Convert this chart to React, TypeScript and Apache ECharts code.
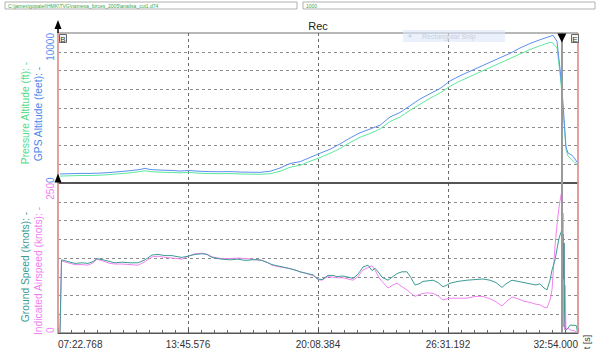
import React, { useEffect, useRef } from "react";
import * as echarts from "echarts";

// ---- time axis (seconds) ----
const T0 = 442.768; // 07:22.768
const TICK_STEP = 382.808;
const SPAN = TICK_STEP * 4; // up to 32:54.000
const CURSOR_T = 1926.5;

// ---- altitude panel ----
const altTimes = [
  448.7, 478.1, 507.6, 537.0, 566.5, 595.9, 625.4, 654.8, 684.3, 699.0,
  713.7, 743.2, 772.6, 802.1, 831.5, 861.0, 890.4, 919.8, 949.3, 978.7,
  1008.2, 1037.6, 1067.1, 1096.5, 1126.0, 1155.4, 1184.9, 1214.3, 1243.8, 1273.2,
  1302.7, 1332.1, 1361.5, 1391.0, 1420.4, 1449.9, 1479.3, 1508.8, 1538.2, 1567.7,
  1597.1, 1626.6, 1656.0, 1685.5, 1714.9, 1744.4, 1773.8, 1803.2, 1832.7, 1862.1,
  1891.6, 1900.4, 1912.2, 1921.1, 1927.0, 1932.9, 1938.7, 1944.6, 1956.4, 1965.2,
  1974.0,
];
const gpsAltitude = [
  600, 620, 640, 640, 660, 700, 760, 820, 900, 980,
  900, 860, 840, 800, 830, 780, 760, 750, 760, 730,
  720, 710, 780, 1000, 1300, 1420, 1700, 1980, 2250, 2600,
  3000, 3350, 3600, 3850, 4400, 4700, 5150, 5600, 5950, 6300,
  6800, 7150, 7450, 7750, 8050, 8350, 8640, 9000, 9300, 9550,
  9780, 9850, 9450, 7600, 6200, 4300, 2400, 2000, 1850, 1600,
  1300,
];
const pressureAltitude = [
  460, 480, 500, 500, 520, 560, 620, 680, 760, 820,
  760, 720, 700, 680, 700, 650, 630, 620, 630, 600,
  590, 580, 620, 780, 1050, 1180, 1450, 1700, 1980, 2300,
  2700, 3050, 3300, 3600, 4100, 4400, 4850, 5250, 5650, 6000,
  6450, 6800, 7100, 7400, 7700, 8000, 8300, 8600, 8900, 9150,
  9380, 9330, 9000, 7300, 5900, 4000, 2200, 1800, 1550, 1350,
  1200,
];

// ---- speed panel ----
const spdTimes = [
  448.7, 453.1, 454.6, 472.2, 492.9, 513.5, 531.1, 545.9, 557.6, 575.3,
  595.9, 610.6, 631.3, 654.8, 678.4, 699.0, 719.6, 737.3, 757.9, 778.5,
  796.2, 807.9, 825.6, 846.2, 866.8, 881.6, 896.3, 914.0, 925.7, 949.3,
  972.8, 993.5, 1014.1, 1031.7, 1043.5, 1061.2, 1072.9, 1096.5, 1120.1, 1140.7,
  1155.4, 1170.1, 1184.9, 1193.7, 1208.4, 1220.2, 1237.9, 1252.6, 1264.4, 1282.0,
  1296.8, 1311.5, 1326.2, 1341.0, 1355.7, 1367.5, 1376.3, 1388.1, 1396.9, 1414.6,
  1429.3, 1441.1, 1455.8, 1470.5, 1482.3, 1494.1, 1505.9, 1517.6, 1532.4, 1547.1,
  1561.8, 1576.5, 1588.3, 1597.1, 1620.7, 1647.2, 1670.8, 1694.3, 1714.9, 1732.6,
  1750.2, 1762.0, 1779.7, 1797.4, 1815.0, 1832.7, 1850.4, 1862.1, 1873.9, 1882.8,
  1891.6, 1897.5, 1906.3, 1912.2, 1918.1, 1924.0, 1927.0, 1928.4, 1929.9, 1931.4,
  1932.9, 1934.3, 1935.8, 1938.7, 1944.6, 1950.5, 1962.3, 1969.7, 1972.6,
];
const groundSpeed = [
  0, 122, 122, 119, 116, 117, 116, 119, 124, 122,
  119, 117, 118, 117, 117, 122, 130, 131, 129, 129,
  127, 126, 128, 131, 132, 131, 126, 124, 123, 122,
  123, 121, 122, 122, 121, 117, 114, 111, 108, 105,
  102, 100, 98, 97, 90, 89, 96, 96, 94, 95,
  93, 91, 98, 110, 113, 104, 108, 100, 93, 88,
  94, 99, 102, 102, 92, 80, 82, 86, 87, 88,
  84, 77, 80, 83, 86, 88, 89, 90, 88, 84,
  76, 82, 88, 86, 84, 82, 80, 82, 75, 72,
  88, 105, 122, 140, 158, 168, 172, 150, 165, 90,
  150, 40, 10, 5, 8, 13, 13, 12, 0,
];
const indicatedAirspeed = [
  0, 120, 120, 117, 114, 114, 113, 117, 123, 120,
  116, 115, 115, 114, 113, 119, 127, 128, 126, 125,
  124, 123, 128, 132, 133, 131, 127, 125, 124, 124,
  125, 124, 123, 122, 121, 117, 113, 110, 108, 105,
  102, 100, 97, 96, 89, 88, 94, 93, 92, 92,
  90, 88, 94, 105, 109, 112, 105, 92, 86, 75,
  80, 83, 77, 72, 66, 61, 64, 66, 67, 66,
  62, 55, 57, 58, 58, 58, 61, 61, 57, 52,
  45, 52, 60, 57, 53, 51, 48, 47, 43, 42,
  55, 72, 145, 180, 210, 230, 238, 20, 200, 10,
  150, 5, 80, 5, 8, 5, 4, 2, 0,
];

// ---- axis ranges / tick labels ----
const altMax = 10000;
const altStep = 1250;
const altLabels = [0, 10000];
const spdMax = 250;
const spdStep = 31.25;
const spdLabels = [0, 250];

const FONT = "'Liberation Sans', Arial, sans-serif";
const C_GPS = "#5b8ff0";
const C_PRESS = "#5ee89e";
const C_GS = "#3b9c94";
const C_IAS = "#f282f2";
const C_RED = "#f39a9a";

function fmtTime(v: number): string {
  const t = v + T0;
  const m = Math.floor(t / 60 + 1e-9);
  const s = t - m * 60;
  return String(m).padStart(2, "0") + ":" + Math.abs(s).toFixed(3).padStart(6, "0");
}

function pairs(times: number[], vals: number[]) {
  return times.map((t, i) => [t - T0, vals[i]]);
}

const boundaryLines = () => ({
  silent: true,
  symbol: ["none", "none"],
  label: { show: false },
  emphasis: { disabled: true },
  data: [
    { xAxis: 0, lineStyle: { color: C_RED, width: 1.5, type: "solid" } },
    { xAxis: SPAN, lineStyle: { color: C_RED, width: 1.5, type: "solid" } },
    { xAxis: CURSOR_T - T0, lineStyle: { color: "#9a9a9a", width: 2, type: "solid" } },
  ],
});

function rotText(text: string, x: number, y: number, fill: string, size: number) {
  return {
    type: "text",
    x,
    y,
    rotation: Math.PI / 2,
    z: 100,
    style: {
      text,
      fill,
      fontSize: size,
      fontFamily: FONT,
      align: "center",
      verticalAlign: "middle",
      textAlign: "center",
      textVerticalAlign: "middle",
    },
  };
}

const splitX = {
  show: true,
  showMinLine: false,
  showMaxLine: false,
  lineStyle: { color: "#6a6a6a", type: [3, 3], width: 1 },
};
const splitY = {
  show: true,
  showMinLine: false,
  showMaxLine: false,
  lineStyle: { color: "#8c8c8c", type: [3, 3], width: 1 },
};

const option: any = {
  animation: false,
  backgroundColor: "#ffffff",
  textStyle: { fontFamily: FONT },
  grid: [
    { left: 58, top: 33, width: 520, height: 150, show: true, borderColor: "#707070", borderWidth: 1, backgroundColor: "transparent" },
    { left: 58, top: 183, width: 520, height: 150, show: true, borderColor: "#555555", borderWidth: 1, backgroundColor: "transparent" },
  ],
  xAxis: [
    {
      gridIndex: 0, type: "value", min: 0, max: SPAN, interval: TICK_STEP,
      axisLine: { show: true, onZero: false, lineStyle: { color: "#444", width: 1.5 } },
      axisTick: { show: false }, axisLabel: { show: false },
      splitLine: splitX,
    },
    {
      gridIndex: 1, type: "value", min: 0, max: SPAN, interval: TICK_STEP,
      axisLine: { show: true, onZero: false, lineStyle: { color: "#555", width: 1 } },
      axisTick: { show: true, inside: true, length: 5, lineStyle: { color: "#555" } },
      minorTick: { show: true, splitNumber: 10, length: 3, lineStyle: { color: "#666" } },
      axisLabel: {
        formatter: (v: number) => fmtTime(v),
        color: "#333", fontSize: 10, margin: 6, fontFamily: FONT,
        showMinLabel: true, showMaxLabel: true,
        alignMinLabel: "left", alignMaxLabel: "right",
      },
      splitLine: splitX,
    },
  ],
  yAxis: [
    {
      gridIndex: 0, type: "value", min: 0, max: altMax, interval: altStep,
      axisLine: { show: false }, axisTick: { show: false },
      axisLabel: {
        rotate: 90, margin: 3, fontSize: 10, color: C_GPS, fontFamily: FONT,
        formatter: (v: number) => (altLabels.includes(v) ? String(v) : ""),
        showMinLabel: true, showMaxLabel: true,
        alignMinLabel: "left", alignMaxLabel: "right",
      },
      splitLine: splitY,
    },
    {
      gridIndex: 1, type: "value", min: 0, max: spdMax, interval: spdStep,
      axisLine: { show: false }, axisTick: { show: false },
      axisLabel: {
        rotate: 90, margin: 3, fontSize: 10, color: C_IAS, fontFamily: FONT,
        formatter: (v: number) => (spdLabels.includes(v) ? String(v) : ""),
        showMinLabel: true, showMaxLabel: true,
        alignMinLabel: "left", alignMaxLabel: "right",
      },
      splitLine: splitY,
    },
  ],
  series: [
    {
      name: "Pressure Altitude (ft)", type: "line", xAxisIndex: 0, yAxisIndex: 0,
      data: pairs(altTimes, pressureAltitude), showSymbol: false, symbol: "none",
      lineStyle: { color: C_PRESS, width: 1 }, itemStyle: { color: C_PRESS }, z: 3,
    },
    {
      name: "GPS Altitude (feet)", type: "line", xAxisIndex: 0, yAxisIndex: 0,
      data: pairs(altTimes, gpsAltitude), showSymbol: false, symbol: "none",
      lineStyle: { color: C_GPS, width: 1 }, itemStyle: { color: C_GPS }, z: 4,
      markLine: boundaryLines(),
      markPoint: {
        silent: true,
        label: { show: false },
        data: [
          { coord: [CURSOR_T - T0, altMax], symbol: "triangle", symbolSize: [9, 9], symbolRotate: 180, symbolOffset: [0, 5], itemStyle: { color: "#000" } },
          { coord: [0, 0], symbol: "triangle", symbolSize: [7, 9], symbolOffset: [0, -5], itemStyle: { color: "#000" } },
        ],
      },
    },
    {
      name: "Indicated Airspeed (knots)", type: "line", xAxisIndex: 1, yAxisIndex: 1,
      data: pairs(spdTimes, indicatedAirspeed), showSymbol: false, symbol: "none",
      lineStyle: { color: C_IAS, width: 1 }, itemStyle: { color: C_IAS }, z: 3,
    },
    {
      name: "Ground Speed (knots)", type: "line", xAxisIndex: 1, yAxisIndex: 1,
      data: pairs(spdTimes, groundSpeed), showSymbol: false, symbol: "none",
      lineStyle: { color: C_GS, width: 1 }, itemStyle: { color: C_GS }, z: 4,
      markLine: boundaryLines(),
    },
  ],
  graphic: [
    // file path boxes
    { type: "rect", shape: { x: 5, y: 2, width: 292, height: 7 }, style: { fill: "#fff", stroke: "#b0b0b0", lineWidth: 1 } },
    { type: "text", x: 8, y: 5.5, style: { text: "C:\\james\\gopatel\\HMK\\TVG\\namesa_forces_2005\\analisa_cut1.d74", fill: "#3aa64a", fontSize: 5, fontFamily: FONT, verticalAlign: "middle", textVerticalAlign: "middle" } },
    { type: "rect", shape: { x: 303, y: 2, width: 292, height: 7 }, style: { fill: "#fff", stroke: "#b0b0b0", lineWidth: 1 } },
    { type: "text", x: 306, y: 5.5, style: { text: "1000", fill: "#3aa64a", fontSize: 5, fontFamily: FONT, verticalAlign: "middle", textVerticalAlign: "middle" } },
    // Rec label
    { type: "text", x: 318, y: 26, style: { text: "Rec", fill: "#222", fontSize: 11, fontFamily: FONT, align: "center", verticalAlign: "middle", textAlign: "center", textVerticalAlign: "middle" } },
    // left begin arrow
    { type: "polygon", shape: { points: [[54.5, 29], [61.5, 29], [58, 20]] }, style: { fill: "#000" }, z: 100 },
    { type: "line", shape: { x1: 58, y1: 28, x2: 58, y2: 33 }, style: { stroke: "#000", lineWidth: 1.5 }, z: 100 },
    // B / E boxes
    { type: "rect", shape: { x: 59.5, y: 34.5, width: 7, height: 8 }, style: { fill: "#f4f4f4", stroke: "#666", lineWidth: 1 }, z: 100 },
    { type: "text", x: 63, y: 39, style: { text: "B", fill: "#333", fontSize: 8, fontFamily: FONT, align: "center", verticalAlign: "middle", textAlign: "center", textVerticalAlign: "middle" }, z: 101 },
    { type: "rect", shape: { x: 571.5, y: 34.5, width: 7, height: 8 }, style: { fill: "#f4f4f4", stroke: "#666", lineWidth: 1 }, z: 100 },
    { type: "text", x: 575, y: 39, style: { text: "E", fill: "#333", fontSize: 8, fontFamily: FONT, align: "center", verticalAlign: "middle", textAlign: "center", textVerticalAlign: "middle" }, z: 101 },
    // faint snip overlay
    { type: "rect", shape: { x: 403, y: 30, width: 102, height: 12 }, style: { fill: "rgba(220,232,250,0.6)" }, z: 90 },
    { type: "circle", shape: { cx: 410, cy: 36, r: 1.5 }, style: { fill: "#c8d2e2" }, z: 91 },
    { type: "text", x: 422, y: 36, style: { text: "Rectangular Snip", fill: "#c6d0e0", fontSize: 7, fontFamily: FONT, verticalAlign: "middle", textVerticalAlign: "middle" }, z: 91 },
    // axis titles
    rotText("Pressure Altitude (ft): -", 25, 113, "#4fdc86", 10.3),
    rotText("GPS Altitude (feet): -", 38, 114, "#4a86e8", 10.3),
    rotText("Ground Speed (knots): -", 25, 267, "#3b9c94", 10.3),
    rotText("Indicated Airspeed (knots): -", 38, 271, "#f27df2", 10.3),
    rotText("t [s]", 587, 342, "#333", 9),
  ],
};

export default function App() {
  const ref = useRef<HTMLDivElement>(null);
  useEffect(() => {
    document.body.style.margin = "0";
    const chart = echarts.init(ref.current!, null, { renderer: "svg" });
    chart.setOption(option);
    return () => chart.dispose();
  }, []);
  return <div ref={ref} style={{ width: 600, height: 359 }} />;
}
